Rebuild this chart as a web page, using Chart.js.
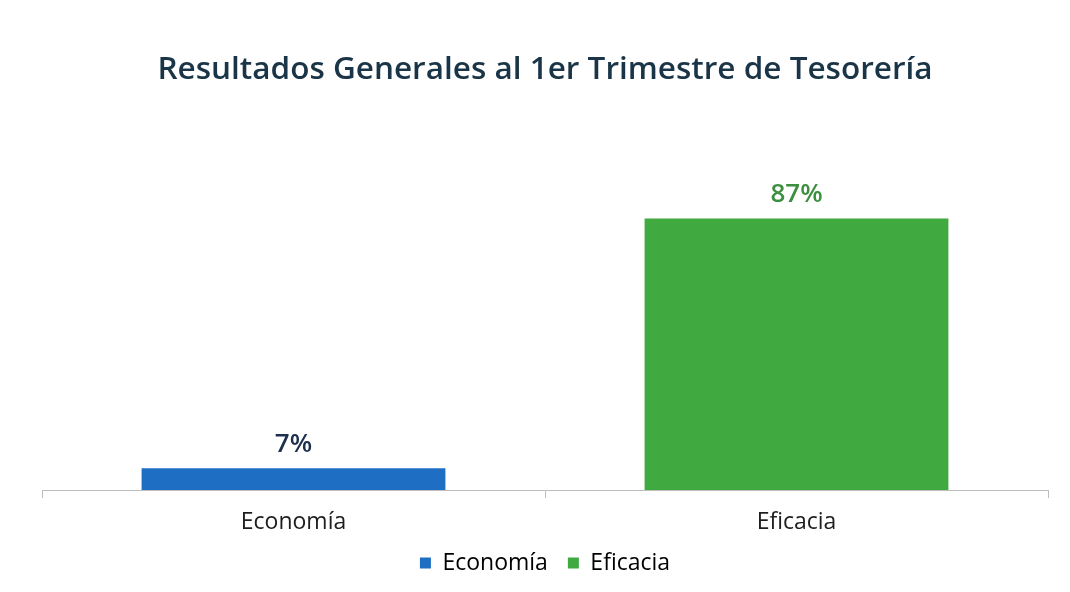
<!DOCTYPE html>
<html>
<head>
<meta charset="utf-8">
<script src="https://cdn.jsdelivr.net/npm/chart.js@4"></script>
<style>
  html,body{margin:0;padding:0;background:#fff;}
  #wrap{position:relative;width:1070px;height:592px;}
  canvas{display:block;}
</style>
</head>
<body>
<div id="wrap"><canvas id="c" width="1070" height="592"></canvas></div>
<script>
const categories = ['Economía', 'Eficacia'];
const values = [7, 87];
const valueLabels = ['7%', '87%'];
const barColors = ['#1e6ec4', '#40a93f'];
const labelColors = ['#1d3050', '#3d8f40'];
const titleText = 'Resultados Generales al 1er Trimestre de Tesorería';

const FONT = "'Open Sans', sans-serif";

const valueLabelPlugin = {
  id: 'valueLabels',
  afterDatasetsDraw(chart) {
    const ctx = chart.ctx;
    const meta = chart.getDatasetMeta(0);
    ctx.save();
    ctx.font = "600 26px " + FONT;
    ctx.textAlign = 'center';
    ctx.textBaseline = 'alphabetic';
    meta.data.forEach((bar, i) => {
      ctx.fillStyle = labelColors[i];
      ctx.fillText(valueLabels[i], bar.x, bar.y - 16);
    });
    ctx.restore();
  }
};

new Chart(document.getElementById('c'), {
  type: 'bar',
  data: {
    labels: categories,
    datasets: [{
      label: 'Resultados',
      data: values,
      backgroundColor: barColors,
      borderWidth: 0,
      barPercentage: 0.604,
      categoryPercentage: 1.0
    }]
  },
  options: {
    responsive: false,
    animation: false,
    layout: { padding: { top: 10, left: 42, right: 22, bottom: 7.5 } },
    plugins: {
      title: {
        display: true,
        text: titleText,
        color: '#1a3547',
        font: { family: FONT, size: 31.5, weight: '600' },
        padding: { top: 41, bottom: 89 }
      },
      legend: {
        display: true,
        position: 'bottom',
        labels: {
          color: '#1e1e1e',
          font: { family: FONT, size: 23, weight: '500' },
          boxWidth: 11,
          boxHeight: 11,
          padding: 20,
          generateLabels(chart) {
            return categories.map((c, i) => ({
              text: c,
              fillStyle: barColors[i],
              strokeStyle: barColors[i],
              lineWidth: 0,
              index: i,
              datasetIndex: 0
            }));
          }
        }
      },
      tooltip: { enabled: false }
    },
    scales: {
      x: {
        grid: {
          display: true,
          drawOnChartArea: false,
          drawTicks: true,
          tickLength: 22.5,
          tickBorderDash: [7, 40],
          color: '#bdbdbd'
        },
        border: { display: true, color: '#bdbdbd', width: 1 },
        ticks: {
          color: '#1e1e1e',
          font: { family: FONT, size: 23, weight: '500', lineHeight: '16px' },
          padding: 1.5
        }
      },
      y: {
        display: false,
        min: 0,
        max: 100
      }
    }
  },
  plugins: [valueLabelPlugin]
});
</script>
</body>
</html>
